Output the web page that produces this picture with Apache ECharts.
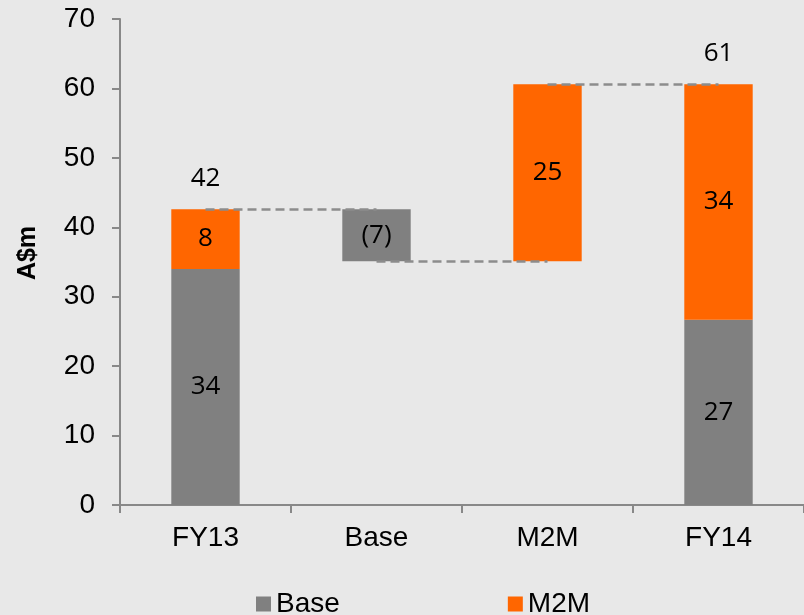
<!DOCTYPE html>
<html>
<head>
<meta charset="utf-8">
<script src="https://cdn.jsdelivr.net/npm/echarts@6/dist/echarts.min.js"></script>
<style>
  html, body { margin: 0; padding: 0; background: #e8e8e8; }
  #graph { width: 804px; height: 615px; }
</style>
</head>
<body>
<div id="graph"></div>
<script>
  // 类别
  var catName = ["FY13", "Base", "M2M", "FY14"];
  // 透明底座（瀑布图悬空部分）
  var helperData = [0, 35.1, 35.1, 0];
  // Base 系列
  var baseData = [34.0, 7.5, 0, 26.7];
  // M2M 系列
  var m2mData = [8.6, 0, 25.5, 33.9];
  // 柱内标签文字
  var baseLabels = ["34", "(7)", "", "27"];
  var m2mLabels = ["8", "", "25", "34"];
  // 合计标签
  var totalLabels = ["42", "", "", "61"];
  var yTicks = [0, 10, 20, 30, 40, 50, 60, 70];

  var totals = catName.map(function (c, i) {
    return helperData[i] + baseData[i] + m2mData[i];
  });

  var myChart = echarts.init(document.getElementById('graph'));

  var labelFont = { fontFamily: "Open Sans", fontSize: 26, color: "#000" };

  // 虚线连接：前一根柱子的顶/底 到 下一根
  var connectors = [
    [{ coord: [catName[0], totals[0]] }, { coord: [catName[1], totals[0]] }],
    [{ coord: [catName[1], helperData[1]] }, { coord: [catName[2], helperData[2]] }],
    [{ coord: [catName[2], totals[2]] }, { coord: [catName[3], totals[3]] }]
  ];

  var totalPoints = [];
  totalLabels.forEach(function (t, i) {
    if (t) {
      totalPoints.push({ coord: [catName[i], totals[i]], value: t });
    }
  });

  var option = {
    backgroundColor: "#e8e8e8",
    animation: false,
    grid: { left: 120, top: 19, width: 696, height: 486 },
    legend: {
      top: 590,
      left: 256,
      padding: 0,
      itemGap: 168,
      itemWidth: 15,
      itemHeight: 15,
      icon: "rect",
      data: ["Base", "M2M"],
      textStyle: { fontFamily: "Liberation Sans", fontSize: 28, color: "#000" }
    },
    xAxis: {
      type: "category",
      data: catName,
      axisLine: { lineStyle: { color: "#888", width: 2 } },
      axisTick: { show: true, length: 8, lineStyle: { color: "#888", width: 2 } },
      axisLabel: { fontFamily: "Liberation Sans", fontSize: 28, color: "#000", margin: 19 }
    },
    yAxis: {
      type: "value",
      min: 0,
      max: yTicks[yTicks.length - 1],
      interval: 10,
      name: "A$m",
      nameLocation: "middle",
      nameGap: 79,
      nameTextStyle: { fontFamily: "Liberation Sans", fontSize: 25, fontWeight: "bold", color: "#000", padding: [0, 0, 0, 18] },
      splitLine: { show: false },
      axisLine: { show: true, lineStyle: { color: "#888", width: 2 } },
      axisTick: { show: true, length: 8, lineStyle: { color: "#888", width: 2 } },
      axisLabel: { fontFamily: "Liberation Sans", fontSize: 28, color: "#000", margin: 25 }
    },
    series: [
      {
        name: "helper",
        type: "bar",
        stack: "total",
        barWidth: "40%",
        itemStyle: { color: "transparent" },
        data: helperData,
        silent: true
      },
      {
        name: "Base",
        type: "bar",
        stack: "total",
        barWidth: "40%",
        itemStyle: { color: "#808080" },
        data: baseData,
        label: Object.assign({
          show: true,
          position: "inside",
          formatter: function (p) { return baseLabels[p.dataIndex]; }
        }, labelFont)
      },
      {
        name: "M2M",
        type: "bar",
        stack: "total",
        barWidth: "40%",
        itemStyle: { color: "#FF6600" },
        data: m2mData,
        label: Object.assign({
          show: true,
          position: "inside",
          formatter: function (p) { return m2mLabels[p.dataIndex]; }
        }, labelFont),
        markLine: {
          silent: true,
          symbol: "none",
          label: { show: false },
          lineStyle: { color: "#8c8c8c", type: [9, 5], width: 2.5 },
          data: connectors
        },
        markPoint: {
          symbol: "rect",
          symbolSize: 0,
          label: Object.assign({
            show: true,
            offset: [0, -31],
            formatter: function (p) { return p.value; }
          }, labelFont),
          data: totalPoints
        }
      }
    ]
  };
  myChart.setOption(option);
</script>
</body>
</html>
